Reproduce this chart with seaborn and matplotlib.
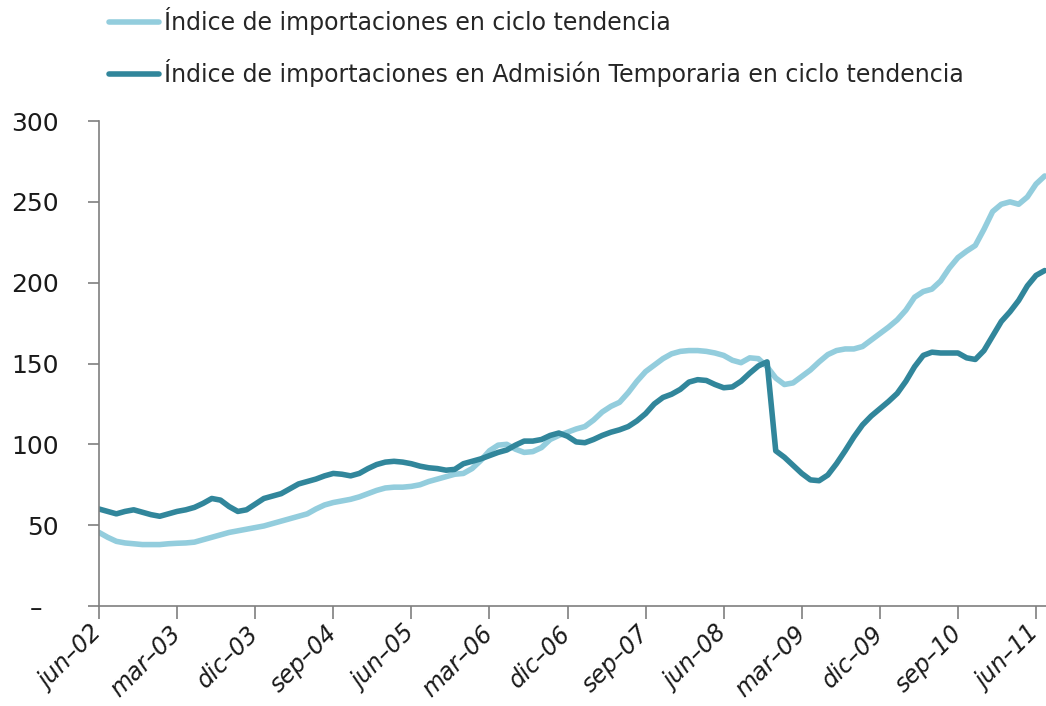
import numpy as np
import pandas as pd
import matplotlib
matplotlib.use("Agg")
import matplotlib.pyplot as plt
import seaborn as sns

sns.set_style("white")
plt.rcParams['font.family'] = ['DejaVu Sans']

# monthly values, jun-02 .. jul-11
importaciones = [
    45.5, 42.5, 40, 39, 38.5, 38, 38, 38, 38.5, 38.8,
    39, 39.5, 41, 42.5, 44, 45.5, 46.5, 47.5, 48.5, 49.5,
    51, 52.5, 54, 55.5, 57, 60, 62.5, 64, 65, 66,
    67.5, 69.5, 71.5, 73, 73.5, 73.5, 74, 75, 77, 78.5,
    80, 81.5, 82, 85, 90, 96, 99.5, 100, 97, 95,
    95.5, 98, 103, 105.5, 107.5, 109.5, 111, 115, 120, 123.5,
    126, 132, 139, 145, 149, 153, 156, 157.5, 158, 158,
    157.5, 156.5, 155, 152, 150.5, 153.5, 153, 148, 141, 137,
    138, 142, 146, 151, 155.5, 158, 159, 159, 160.5, 164.5,
    168.5, 172.5, 177, 183, 191, 194.5, 196, 201, 209, 215.5,
    219.5, 223, 233, 244, 248.5, 250, 248.5, 253, 261, 266,
]
admision_temporaria = [
    60, 58.5, 57, 58.5, 59.5, 58, 56.5, 55.5, 57, 58.5,
    59.5, 61, 63.5, 66.5, 65.5, 61.5, 58.5, 59.5, 63, 66.5,
    68, 69.5, 72.5, 75.5, 77, 78.5, 80.5, 82, 81.5, 80.5,
    82, 85, 87.5, 89, 89.5, 89, 88, 86.5, 85.5, 85,
    84, 84.5, 88, 89.5, 91, 93, 95, 96.5, 99.5, 102,
    102, 103, 105.5, 107, 105, 101.5, 101, 103, 105.5, 107.5,
    109, 111, 114.5, 119, 125, 129, 131, 134, 138.5, 140,
    139.5, 137, 135, 135.5, 139, 144, 148.5, 151, 96, 92,
    87, 82, 78, 77.5, 81, 88, 96, 104.5, 112, 117.5,
    122, 126.5, 131.5, 139, 148, 155, 157, 156.5, 156.5, 156.5,
    153.5, 152.5, 158, 167, 176, 182, 189, 198, 204.5, 207.5,
]

series_names = [
    "Índice de importaciones en ciclo tendencia",
    "Índice de importaciones en Admisión Temporaria en ciclo tendencia",
]
x_tick_labels = ["jun–02", "mar–03", "dic–03", "sep–04", "jun–05", "mar–06", "dic–06",
                 "sep–07", "jun–08", "mar–09", "dic–09", "sep–10", "jun–11"]
y_ticks = [0, 50, 100, 150, 200, 250, 300]
y_tick_labels = ["–  ", "50", "100", "150", "200", "250", "300"]

colors = ["#93CDDD", "#31869B"]


def plot():
    df = pd.DataFrame({
        "mes": np.arange(len(importaciones)),
        series_names[0]: importaciones,
        series_names[1]: admision_temporaria,
    })
    long_df = df.melt(id_vars="mes", var_name="serie", value_name="indice")

    fig = plt.figure(figsize=(10.46, 7.06), dpi=100)
    ax = fig.add_axes([99 / 1046, 1 - 606 / 706, 947 / 1046, 485 / 706])

    sns.lineplot(data=long_df, x="mes", y="indice", hue="serie", palette=colors,
                 linewidth=4, solid_capstyle="round", solid_joinstyle="round", ax=ax)

    ax.set_xlim(0, 109.15)
    ax.set_ylim(0, 300)
    ax.set_xlabel("")
    ax.set_ylabel("")

    ax.set_yticks(y_ticks)
    ax.set_yticklabels(y_tick_labels, fontsize=18, color="#1a1a1a")
    ax.set_xticks(np.arange(0, len(importaciones), 9))
    ax.set_xticklabels(x_tick_labels, rotation=45, ha="right", va="center",
                       rotation_mode="anchor", fontstyle="italic", fontsize=17, color="#1a1a1a")
    ax.tick_params(axis="y", direction="out", length=8, width=1.2, color="#7f7f7f", pad=21, left=True)
    ax.tick_params(axis="x", direction="out", length=9, width=1.2, color="#7f7f7f", pad=8, bottom=True)

    for side in ["top", "right"]:
        ax.spines[side].set_visible(False)
    for side in ["left", "bottom"]:
        ax.spines[side].set_color("#7f7f7f")
        ax.spines[side].set_linewidth(1.2)

    handles, labels = ax.get_legend_handles_labels()
    for h in handles:
        h.set_linewidth(4)
        h.set_solid_capstyle("round")
    ax.legend(handles, labels, loc="upper left", bbox_to_anchor=(100 / 1046, 1 + 2 / 706),
              bbox_transform=fig.transFigure, frameon=False, fontsize=17,
              handlelength=2.1, handletextpad=0.2, labelspacing=1.0, borderaxespad=0.0)

    fig.savefig("out.png", dpi=100)


if __name__ == '__main__':
    plot()
